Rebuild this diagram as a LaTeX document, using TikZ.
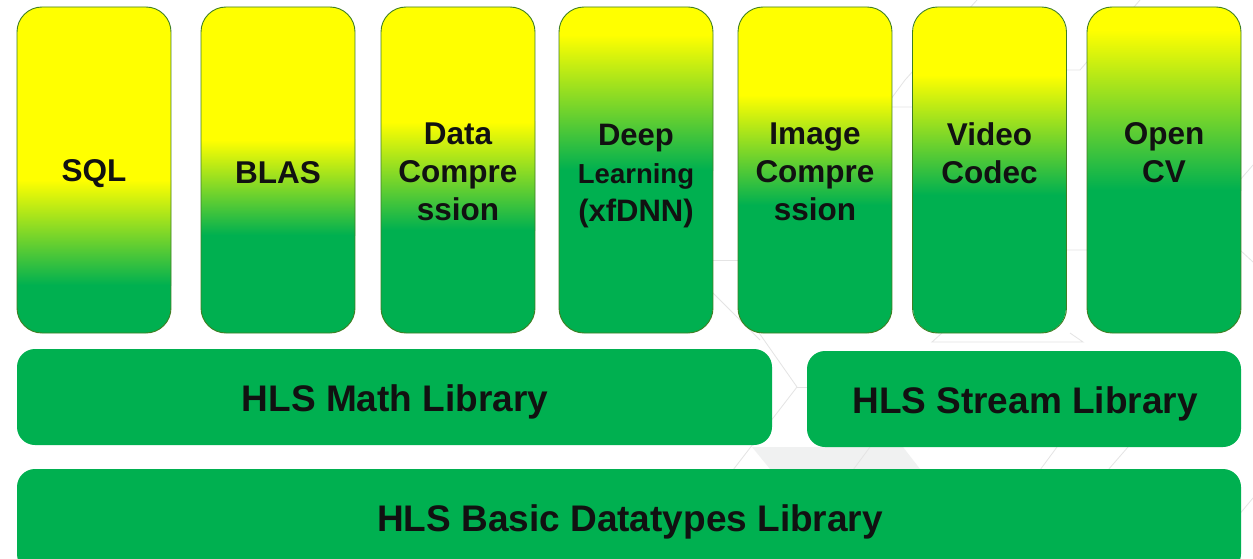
\documentclass[tikz,border=0pt]{standalone}
\usepackage{fontspec}
\setmainfont{Liberation Sans}
\definecolor{hlyellow}{HTML}{FFFF00}
\definecolor{hlgreen}{HTML}{00B050}
\definecolor{colframe}{HTML}{3F7F22}
\definecolor{hexline}{HTML}{E4E4E4}
\definecolor{hexfill}{HTML}{F0F1F1}
\definecolor{ink}{HTML}{111111}

% Library column: gradient fill (yellow -> green between #5 and #6), frame, label
% #1 name, #2 left x, #3 right x, #4 label y, #5 yellow end, #6 green start, #7 label
\newcommand\libcolumn[7]{%
  \begin{scope}
    \clip[rounded corners=25pt] (#2,7) rectangle (#3,333);
    \fill[hlyellow] (#2,6) rectangle (#3,#5);
    \shade[top color=hlyellow, bottom color=hlgreen] (#2,#5) rectangle (#3,#6);
    \fill[hlgreen] (#2,#6) rectangle (#3,334);
  \end{scope}
  \node[colbox] (#1) at ({(#2+#3)/2},170) {};
  \node[lbl] (#1t) at ({(#2+#3)/2},#4) {#7};
}

\begin{document}
\begin{tikzpicture}[x=1pt,y=-1pt,
  colbox/.style={draw=colframe, line width=0.9pt, rounded corners=25pt,
    inner sep=0pt, outer sep=0pt, minimum width=154pt, minimum height=326pt},
  lbl/.style={text=ink, align=center, inner sep=0pt,
    font=\fontsize{31.5}{38}\selectfont\bfseries},
  bar/.style={fill=hlgreen, rounded corners=18pt},
  barlbl/.style={text=ink, inner sep=0pt,
    font=\fontsize{37}{44}\selectfont\bfseries},
  hex/.style={draw=hexline, line width=0.8pt}]
\useasboundingbox (0,0) rectangle (1253,559);
\fill[white] (0,0) rectangle (1253,559);

% faint hexagon pattern in the background
\fill[hexfill] (752,447) -- (903,447) -- (920,469) -- (770,469) -- cycle;
\draw[hex] (750,320) -- (797,387) -- (733,470) -- (700,515);
\draw[hex] (797,387) -- (820,387);
\draw[hex] (942,333) -- (932,342) -- (1083,342) -- (1070,333);
\draw[hex] (1140,0) -- (1080,70) -- (1040,70);
\draw[hex] (977,0) -- (905,80) -- (885,107) -- (920,107);
\draw[hex] (1128,447) -- (1108,470);
\draw[hex] (870,447) -- (853,470);
\draw[hex] (1057,447) -- (1040,470);
\draw[hex] (1253,498) -- (1238,516);
\draw[hex] (700,260) -- (745,260);
\draw[hex] (705,285) -- (760,340);
\draw[hex] (1060,250) -- (1095,250) -- (1110,232);
\draw[hex] (1240,180) -- (1253,165);
\draw[hex] (1240,250) -- (1253,262);

% application libraries
\libcolumn{sql}{17}{171}{174}{180}{285}{SQL}
\libcolumn{blas}{201}{355}{173}{140}{235}{BLAS}
\libcolumn{dcomp}{381}{535}{172}{122}{230}{Data\\Compre\\ssion}
\libcolumn{dl}{559}{713}{176}{35}{170}{%
  \fontsize{31}{37}\selectfont Deep\\
  \fontsize{27.5}{37}\selectfont Learning\\
  \fontsize{31}{37}\selectfont (xfDNN)}
\libcolumn{icomp}{738}{892}{172}{95}{205}{Image\\Compre\\ssion}
\libcolumn{video}{913}{1066}{153}{75}{195}{Video\\Codec}
\libcolumn{ocv}{1087}{1241}{153}{30}{190}{Open\\CV}

% foundation libraries
\path[bar] (17,349) rectangle (772,445);
\node[barlbl] (math) at (395,402) {HLS Math Library};
\path[bar] (807,351) rectangle (1241,447);
\node[barlbl] (stream) at (1025,404) {HLS Stream Library};
\path[bar] (17,469) rectangle (1241,572);
\node[barlbl] (basic) at (630,522) {HLS Basic Datatypes Library};
\end{tikzpicture}
\end{document}
